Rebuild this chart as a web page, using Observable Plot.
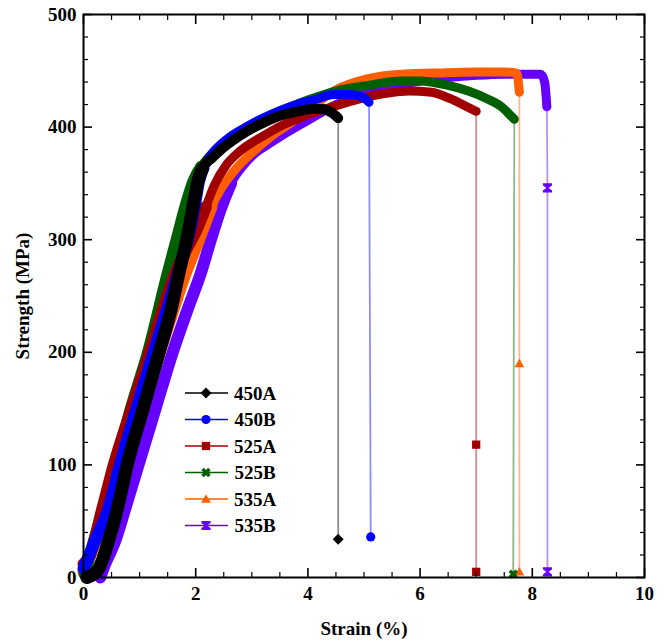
<!DOCTYPE html>
<html><head><meta charset="utf-8">
<script src="https://cdn.jsdelivr.net/npm/d3@7"></script>
<script src="https://cdn.jsdelivr.net/npm/@observablehq/plot@0.6"></script>
<style>
html,body{margin:0;padding:0;background:#fff;}
#chart{position:relative;width:668px;height:641px;}
</style></head><body><div id="chart"></div>
<script>
// ---- data ----
const series = ["450A", "450B", "525A", "525B", "535A", "535B"];
const colors = ["#000000", "#0000ff", "#a00000", "#005f00", "#ff5f00", "#6600ff"];
const symbolKinds = ["diamond", "circle", "square", "x", "triangle", "hourglass"];

const xTicks = [0, 2, 4, 6, 8, 10];
const xMinor = [0.5, 1, 1.5, 2.5, 3, 3.5, 4.5, 5, 5.5, 6.5, 7, 7.5, 8.5, 9, 9.5];
const yTicks = [0, 100, 200, 300, 400, 500];
const yMinor = [20, 40, 60, 80, 120, 140, 160, 180, 220, 240, 260, 280, 320, 340, 360, 380, 420, 440, 460, 480];

const strain450A = [0.06, 0.25, 0.45, 0.61, 0.78, 1.07, 1.35, 1.57, 1.70, 1.84, 1.95, 2.04, 2.12, 2.3, 2.45, 2.63, 2.9, 3.21, 3.5, 3.82, 4.05, 4.25, 4.42, 4.54];
const stress450A = [0, 6, 33, 62, 100, 151, 200, 240, 270, 300, 329, 352, 363, 373, 380, 387, 396, 404, 410, 414, 416, 416, 413, 408];
const fracStrain450A = [4.54, 4.54];
const fracStress450A = [408, 34];

const strain450B = [0, 0.21, 0.45, 0.65, 0.95, 1.25, 1.5, 1.68, 1.86, 1.98, 2.06, 2.14, 2.25, 2.39, 2.6, 2.93, 3.2, 3.52, 3.85, 4.11, 4.46, 4.71, 4.89, 5.0, 5.09];
const stress450B = [8, 33, 62, 100, 151, 200, 240, 270, 300, 329, 352, 364, 374, 382, 391, 401, 408, 415, 421, 424, 429, 429, 428, 426, 422];
const fracStrain450B = [5.09, 5.12];
const fracStress450B = [422, 36];

const strain525A = [0, 0.1, 0.34, 0.54, 0.87, 1.18, 1.41, 1.62, 1.82, 2.0, 2.18, 2.33, 2.54, 2.8, 3.2, 3.52, 3.8, 4.11, 4.5, 5.0, 5.4, 5.8, 6.2, 6.55, 6.8, 7.0];
const stress525A = [12, 18, 62, 100, 152, 200, 238, 268, 290, 307, 329, 348, 366, 379, 392, 401, 407, 413, 419, 426, 430, 432, 431, 425, 419, 414];
const fracStrain525A = [7.0, 7.0, 7.0];
const fracStress525A = [414, 118, 5];

const strain525B = [0.02, 0.2, 0.5, 0.85, 1.15, 1.5, 1.66, 1.82, 1.96, 2.1, 2.39, 2.7, 3.0, 3.5, 4.0, 4.5, 5.07, 5.66, 6.0, 6.5, 6.86, 7.2, 7.45, 7.6, 7.68];
const stress525B = [3, 35, 85, 151, 200, 270, 300, 330, 352, 365, 381, 393, 402, 414, 424, 432, 437, 441, 441, 437, 432, 425, 418, 411, 407];
const fracStrain525B = [7.68, 7.66];
const fracStress525B = [407, 3];

const strain535A = [0, 0.2, 0.5, 0.9, 1.2, 1.5, 1.82, 2.06, 2.28, 2.45, 2.7, 3.0, 3.3, 3.7, 4.0, 4.46, 5.07, 5.66, 6.25, 7.0, 7.5, 7.72, 7.77];
const stress535A = [5, 30, 70, 130, 175, 222, 270, 300, 329, 345, 362, 377, 390, 404, 415, 432, 443, 447, 448, 449, 449, 448, 431];
const fracStrain535A = [7.77, 7.77, 7.77];
const fracStress535A = [431, 190, 5];

const strain535B = [0.3, 0.34, 0.57, 0.75, 0.98, 1.29, 1.59, 1.87, 2.09, 2.27, 2.46, 2.63, 2.85, 3.04, 3.3, 3.52, 4.0, 4.5, 5.0, 5.5, 6.0, 6.5, 7.0, 7.5, 8.0, 8.15, 8.22, 8.26];
const stress535B = [0, 6, 33, 62, 100, 151, 200, 240, 270, 300, 329, 350, 366, 376, 385, 392, 406, 420, 429, 436, 441, 444, 446, 447, 447, 447, 440, 418];
const fracStrain535B = [8.26, 8.27, 8.27];
const fracStress535B = [418, 346, 5];

// stress up to which the dense elastic part of each curve looks wider
const elasticLimit = [364, 364, 330, 365, 329, 350];

// ---- build tables ----
const curveStrain = [strain450A, strain450B, strain525A, strain525B, strain535A, strain535B];
const curveStress = [stress450A, stress450B, stress525A, stress525B, stress535A, stress535B];
const fracStrain = [fracStrain450A, fracStrain450B, fracStrain525A, fracStrain525B, fracStrain535A, fracStrain535B];
const fracStress = [fracStress450A, fracStress450B, fracStress525A, fracStress525B, fracStress535A, fracStress535B];

function symbolOf(kind) {
  return {
    draw(ctx, size) {
      const r = Math.sqrt(size / Math.PI);
      if (kind === "circle") { ctx.moveTo(r, 0); ctx.arc(0, 0, r, 0, 2 * Math.PI); return; }
      let pts;
      if (kind === "diamond") { const d = r * 1.2; pts = [[0, -d], [d, 0], [0, d], [-d, 0]]; }
      else if (kind === "square") { const s = r * 0.9; pts = [[-s, -s], [s, -s], [s, s], [-s, s]]; }
      else if (kind === "triangle") { pts = [[0, -r * 1.05], [r * 1.05, r * 0.8], [-r * 1.05, r * 0.8]]; }
      else if (kind === "hourglass") {
        pts = [[-r, -r], [r, -r], [r, -0.55 * r], [0.25 * r, 0], [r, 0.55 * r], [r, r], [-r, r], [-r, 0.55 * r], [-0.25 * r, 0], [-r, -0.55 * r]];
      } else { // x
        const t = r * 0.38, a = r * 1.05;
        const p = [[-t, -a], [t, -a], [t, -t], [a, -t], [a, t], [t, t], [t, a], [-t, a], [-t, t], [-a, t], [-a, -t], [-t, -t]];
        const c = Math.SQRT1_2;
        pts = p.map(([x, y]) => [c * (x - y), c * (x + y)]);
      }
      ctx.moveTo(pts[0][0], pts[0][1]);
      for (let i = 1; i < pts.length; i++) ctx.lineTo(pts[i][0], pts[i][1]);
      ctx.closePath();
    }
  };
}

const curveRows = series.map((id, i) => curveStrain[i].map((s, j) => ({id, strain: s, stress: curveStress[i][j]})));
const elasticRows = series.map((id, i) => curveRows[i].filter(d => d.stress <= elasticLimit[i]));
const fracRows = series.map((id, i) => fracStrain[i].map((s, j) => ({id, strain: s, stress: fracStress[i][j]})));
const markerRows = series.map((id, i) => fracRows[i].slice(1));

const font = "'Liberation Serif', 'Times New Roman', serif";
const drawOrder = [5, 4, 3, 2, 1, 0];

const marks = [];
// thin fracture lines
for (const i of drawOrder) {
  marks.push(Plot.line(fracRows[i], {x: "strain", y: "stress", stroke: colors[i], strokeWidth: 1.8, strokeOpacity: 0.45}));
}
// thick curves
for (const i of drawOrder) {
  marks.push(Plot.line(elasticRows[i], {x: "strain", y: "stress", stroke: colors[i], strokeWidth: i === 0 ? 13 : 12, curve: "monotone-x", strokeLinejoin: "round", strokeLinecap: "round"}));
  marks.push(Plot.line(curveRows[i], {x: "strain", y: "stress", stroke: colors[i], strokeWidth: i === 0 ? 10 : 9, curve: "monotone-x", strokeLinejoin: "round", strokeLinecap: "round"}));
}
// markers
for (const i of drawOrder) {
  marks.push(Plot.dot(markerRows[i], {x: "strain", y: "stress", fill: colors[i], stroke: "none", r: 4.6, symbol: symbolOf(symbolKinds[i])}));
}
// axes
marks.push(
  Plot.axisX({anchor: "bottom", ticks: xTicks, tickSize: 0, tickPadding: 9, label: null, tickFormat: d => String(d)}),
  Plot.axisY({anchor: "left", ticks: yTicks, tickSize: 0, tickPadding: 7, label: null, tickFormat: d => String(d)}),
  Plot.axisX({anchor: "bottom", ticks: xTicks, tickSize: -9, fill: "none", label: null, strokeWidth: 1.6}),
  Plot.axisX({anchor: "top", ticks: xTicks, tickSize: -9, fill: "none", label: null, strokeWidth: 1.6}),
  Plot.axisX({anchor: "bottom", ticks: xMinor, tickSize: -5, fill: "none", label: null, strokeWidth: 1.2}),
  Plot.axisX({anchor: "top", ticks: xMinor, tickSize: -5, fill: "none", label: null, strokeWidth: 1.2}),
  Plot.axisY({anchor: "left", ticks: yTicks, tickSize: -9, fill: "none", label: null, strokeWidth: 1.6}),
  Plot.axisY({anchor: "right", ticks: yTicks, tickSize: -9, fill: "none", label: null, strokeWidth: 1.6}),
  Plot.axisY({anchor: "left", ticks: yMinor, tickSize: -5, fill: "none", label: null, strokeWidth: 1.2}),
  Plot.axisY({anchor: "right", ticks: yMinor, tickSize: -5, fill: "none", label: null, strokeWidth: 1.2}),
  Plot.frame({stroke: "black", strokeWidth: 2}),
  Plot.text(["Strain (%)"], {frameAnchor: "bottom", dy: 51, text: d => d, fontSize: 19, fontWeight: "bold", textAnchor: "middle", lineAnchor: "middle"}),
  Plot.text(["Strength (MPa)"], {frameAnchor: "left", dx: -61, text: d => d, rotate: -90, fontSize: 19, fontWeight: "bold", textAnchor: "middle", lineAnchor: "middle"})
);

const svg = Plot.plot({
  width: 668, height: 641,
  marginLeft: 83, marginRight: 24, marginTop: 14, marginBottom: 64,
  style: {fontFamily: font, fontWeight: "bold", fontSize: "19px", background: "white", color: "black"},
  x: {domain: [0, 10]},
  y: {domain: [0, 500]},
  marks
});
document.getElementById("chart").appendChild(svg);

// legend inside the plot area
const lg = d3.select(svg).append("g").attr("transform", "translate(185,393)");
series.forEach((id, i) => {
  const g = lg.append("g").attr("transform", `translate(0,${i * 26.5})`);
  g.append("line").attr("x1", 0).attr("x2", 43).attr("y1", 0).attr("y2", 0).attr("stroke", colors[i]).attr("stroke-width", 1.3);
  g.append("path").attr("transform", "translate(21,0)").attr("fill", colors[i])
    .attr("d", d3.symbol().type(symbolOf(symbolKinds[i])).size(Math.PI * 4.6 * 4.6)());
  g.append("text").attr("x", 70).attr("y", 0).attr("dy", "0.35em").attr("font-family", font)
    .attr("font-weight", "bold").attr("font-size", 19).attr("fill", "black").text(id);
});
</script></body></html>
